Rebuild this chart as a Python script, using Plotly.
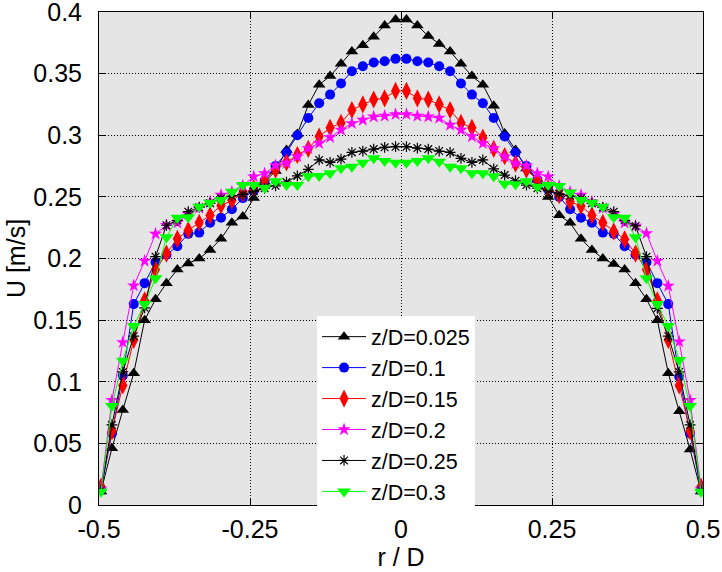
import plotly.graph_objects as go

r_over_D = [-0.4967, -0.4786, -0.4606, -0.4425, -0.4244, -0.4064, -0.3883, -0.3703,
            -0.3522, -0.3341, -0.3161, -0.2980, -0.2800, -0.2619, -0.2438, -0.2258,
            -0.2077, -0.1896, -0.1716, -0.1535, -0.1355, -0.1174, -0.0993, -0.0813,
            -0.0632, -0.0452, -0.0271, -0.0090, 0.0090, 0.0271, 0.0452, 0.0632,
            0.0813, 0.0993, 0.1174, 0.1355, 0.1535, 0.1716, 0.1896, 0.2077,
            0.2258, 0.2438, 0.2619, 0.2800, 0.2980, 0.3161, 0.3341, 0.3522,
            0.3703, 0.3883, 0.4064, 0.4244, 0.4425, 0.4606, 0.4786, 0.4967]

u_z0025 = [0.011, 0.046, 0.077, 0.107, 0.150, 0.167, 0.180, 0.191, 0.196, 0.200,
           0.207, 0.216, 0.229, 0.234, 0.249, 0.262, 0.271, 0.288, 0.301, 0.3245,
           0.341, 0.348, 0.358, 0.368, 0.373, 0.380, 0.389, 0.394, 0.394, 0.389,
           0.3805, 0.374, 0.368, 0.358, 0.348, 0.341, 0.324, 0.3015, 0.288, 0.273,
           0.264, 0.250, 0.235, 0.229, 0.216, 0.207, 0.200, 0.1955, 0.191, 0.180,
           0.167, 0.150, 0.107, 0.076, 0.045, 0.011]

u_z01 = [0.012, 0.058, 0.105, 0.163, 0.180, 0.197, 0.203, 0.210, 0.220, 0.221,
         0.229, 0.233, 0.240, 0.249, 0.255, 0.263, 0.275, 0.286, 0.300, 0.314,
         0.326, 0.333, 0.342, 0.352, 0.356, 0.359, 0.360, 0.362, 0.362, 0.360,
         0.359, 0.356, 0.352, 0.342, 0.333, 0.326, 0.314, 0.299, 0.286, 0.275,
         0.264, 0.256, 0.250, 0.240, 0.233, 0.229, 0.221, 0.220, 0.210, 0.203,
         0.197, 0.180, 0.163, 0.104, 0.058, 0.012]

u_z015 = [0.015, 0.060, 0.097, 0.134, 0.166, 0.191, 0.204, 0.216, 0.223, 0.229,
          0.235, 0.243, 0.247, 0.253, 0.257, 0.264, 0.272, 0.278, 0.284, 0.289,
          0.299, 0.306, 0.310, 0.3205, 0.325, 0.329, 0.330, 0.336, 0.336, 0.330,
          0.329, 0.325, 0.3205, 0.310, 0.306, 0.298, 0.289, 0.283, 0.277, 0.272,
          0.264, 0.257, 0.2515, 0.246, 0.2426, 0.235, 0.229, 0.222, 0.2156, 0.204,
          0.191, 0.166, 0.134, 0.097, 0.060, 0.015]

u_z02 = [0.013, 0.085, 0.132, 0.178, 0.198, 0.220, 0.227, 0.229, 0.236, 0.241,
         0.246, 0.2515, 0.254, 0.259, 0.2665, 0.269, 0.2755, 0.2775, 0.2826, 0.2894,
         0.2934, 0.2983, 0.3043, 0.3097, 0.3124, 0.315, 0.3156, 0.317, 0.317, 0.3156,
         0.315, 0.314, 0.3083, 0.3043, 0.299, 0.2934, 0.2894, 0.2826, 0.2772, 0.2753,
         0.269, 0.2664, 0.2588, 0.254, 0.2515, 0.246, 0.241, 0.236, 0.229, 0.2264,
         0.2204, 0.198, 0.1777, 0.1325, 0.085, 0.013]

u_z025 = [0.012, 0.065, 0.108, 0.137, 0.160, 0.2015, 0.227, 0.231, 0.238, 0.2415,
          0.2448, 0.2488, 0.2507, 0.252, 0.2545, 0.257, 0.259, 0.262, 0.267, 0.2724,
          0.280, 0.278, 0.2807, 0.2861, 0.2872, 0.2888, 0.2902, 0.2907, 0.2907, 0.2896,
          0.2888, 0.2872, 0.2861, 0.2813, 0.278, 0.280, 0.2728, 0.2677, 0.2631, 0.2596,
          0.257, 0.255, 0.2525, 0.251, 0.2488, 0.2448, 0.2415, 0.238, 0.231, 0.2264,
          0.2015, 0.1596, 0.137, 0.108, 0.065, 0.012]

u_z03 = [0.0108, 0.0803, 0.117, 0.1452, 0.163, 0.1839, 0.2172, 0.2331, 0.2334, 0.242,
         0.2453, 0.2475, 0.2542, 0.2596, 0.2596, 0.2575, 0.2626, 0.2596, 0.2596, 0.2668,
         0.267, 0.2691, 0.2732, 0.2745, 0.2777, 0.2813, 0.2791, 0.2777, 0.2777, 0.2791,
         0.2813, 0.2786, 0.2745, 0.2732, 0.2691, 0.2691, 0.2667, 0.2606, 0.2602, 0.2627,
         0.2582, 0.2596, 0.2588, 0.2536, 0.2475, 0.2453, 0.242, 0.2334, 0.2331, 0.2172,
         0.1839, 0.163, 0.1452, 0.1176, 0.0803, 0.0108]

series_names = ["z/D=0.025", "z/D=0.1", "z/D=0.15", "z/D=0.2", "z/D=0.25", "z/D=0.3"]
series_values = [u_z0025, u_z01, u_z015, u_z02, u_z025, u_z03]

x_tick_vals = [-0.5, -0.25, 0, 0.25, 0.5]
x_tick_text = ["-0.5", "-0.25", "0", "0.25", "0.5"]
y_tick_vals = [0, 0.05, 0.1, 0.15, 0.2, 0.25, 0.3, 0.35, 0.4]
y_tick_text = ["0", "0.05", "0.1", "0.15", "0.2", "0.25", "0.3", "0.35", "0.4"]

styles = [
    dict(color="#000000", symbol="triangle-up", size=11, lw=0),
    dict(color="#0000ff", symbol="circle", size=10, lw=0),
    dict(color="#ff0000", symbol="diamond-tall", size=13, lw=0),
    dict(color="#ff00ff", symbol="star", size=10, lw=0),
    dict(color="#000000", symbol="asterisk-open", size=9, lw=1.2),
    dict(color="#00ff00", symbol="triangle-down", size=12, lw=0),
]

FONT = "Liberation Sans, Arial, sans-serif"

fig = go.Figure()
for name, vals, st in zip(series_names, series_values, styles):
    fig.add_trace(go.Scatter(
        x=r_over_D, y=vals, name=name, mode="lines+markers",
        line=dict(color=st["color"], width=1),
        marker=dict(color=st["color"], symbol=st["symbol"], size=st["size"],
                    line=dict(color=st["color"], width=st["lw"])),
    ))

axis_common = dict(
    showline=True, linecolor="black", linewidth=1, mirror="ticks",
    ticks="inside", ticklen=6, tickcolor="black", tickwidth=1,
    showgrid=True, gridcolor="black", gridwidth=1, griddash="1px,2px",
    zeroline=False, tickfont=dict(family=FONT, size=25, color="black"),
    ticklabeloverflow="allow",
)

fig.update_xaxes(range=[-0.5, 0.5], tickvals=x_tick_vals, ticktext=x_tick_text,
                 title=dict(text="r / D", font=dict(family=FONT, size=25, color="black"), standoff=0),
                 ticklabelstandoff=2, **axis_common)
fig.update_yaxes(range=[0, 0.40001], tickvals=y_tick_vals, ticktext=y_tick_text,
                 title=dict(text="U [m/s]", font=dict(family=FONT, size=25, color="black"), standoff=0),
                 ticklabelstandoff=11, **axis_common)

fig.update_layout(
    width=722, height=572,
    margin=dict(l=99, r=19, t=12, b=67, autoexpand=False),
    paper_bgcolor="white", plot_bgcolor="#e5e5e5",
    font=dict(family=FONT, size=21.5, color="black"),
    showlegend=True,
    legend=dict(x=0.361, y=0.383, xanchor="left", yanchor="top",
                bgcolor="white", borderwidth=0,
                font=dict(family=FONT, size=21.5, color="black"),
                tracegroupgap=0, itemsizing="trace", itemwidth=44),
)

fig.write_html("out.html", config={"displayModeBar": False},
               post_script="document.body.style.margin='0';")
